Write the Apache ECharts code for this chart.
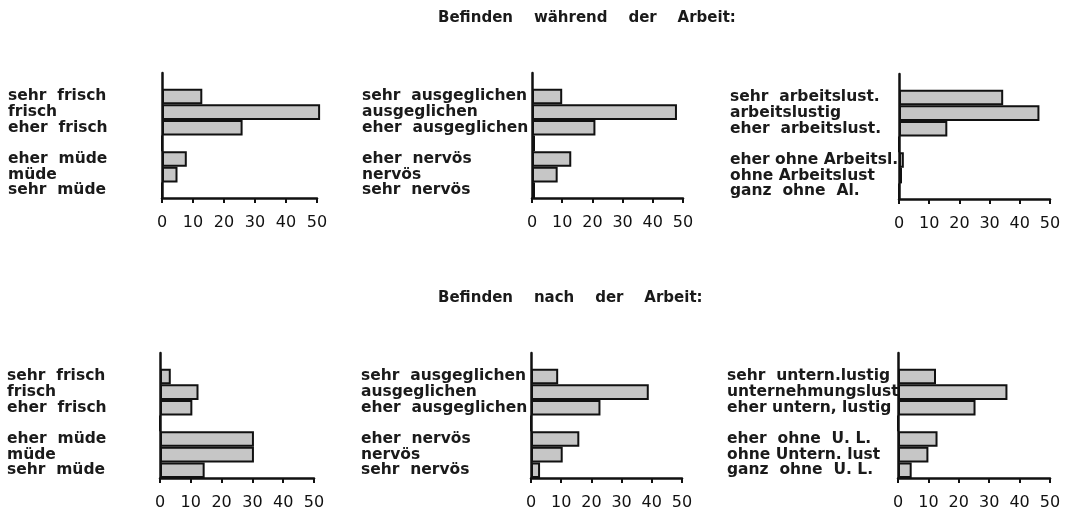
<!DOCTYPE html>
<html>
<head>
<meta charset="utf-8">
<script src="https://cdn.jsdelivr.net/npm/echarts@6/dist/echarts.min.js"></script>
<style>html,body{margin:0;padding:0;background:#fff;}#c{width:1067px;height:514px;}</style>
</head>
<body>
<div id="c"></div>
<script>
// ---- Data ----
const titleDuring = 'Befinden    während    der    Arbeit:';
const titleAfter = 'Befinden    nach    der    Arbeit:';
const xTicks = [0, 10, 20, 30, 40, 50];

const labelsFrisch = ['sehr  frisch', 'frisch', 'eher  frisch', 'eher  müde', 'müde', 'sehr  müde'];
const labelsNervos = ['sehr  ausgeglichen', 'ausgeglichen', 'eher  ausgeglichen', 'eher  nervös', 'nervös', 'sehr  nervös'];
const labelsArbeit = ['sehr  arbeitslust.', 'arbeitslustig', 'eher  arbeitslust.', 'eher ohne Arbeitsl.', 'ohne Arbeitslust', 'ganz  ohne  Al.'];
const labelsUntern = ['sehr  untern.lustig', 'unternehmungslust', 'eher untern, lustig', 'eher  ohne  U. L.', 'ohne Untern. lust', 'ganz  ohne  U. L.'];

// values per slot: 3 positive, middle (unlabelled), 3 negative
const duringFrisch = [13, 51, 26, 0, 8, 5, 0];
const duringNervos = [10, 48, 21, 1, 13, 8.5, 1];
const duringArbeit = [34.5, 46.5, 16, 0, 1.6, 1, 0];
const afterFrisch = [3.5, 12.5, 10.5, 0, 30.5, 30.5, 14.5];
const afterNervos = [9, 39, 23, 0, 16, 10.5, 3];
const afterUntern = [12.5, 36, 25.5, 0, 13, 10, 4.5];

// ---- Layout ----
const panels = [
  {labels: labelsFrisch, values: duringFrisch, left: 162, top: 73, width: 155, margin: 154},
  {labels: labelsNervos, values: duringNervos, left: 532, top: 73, width: 151, margin: 170},
  {labels: labelsArbeit, values: duringArbeit, left: 899, top: 74, width: 151, margin: 169},
  {labels: labelsFrisch, values: afterFrisch, left: 160, top: 353, width: 154, margin: 153},
  {labels: labelsNervos, values: afterNervos, left: 531, top: 353, width: 151, margin: 170},
  {labels: labelsUntern, values: afterUntern, left: 898, top: 353, width: 152, margin: 171}
];

const font = 'DejaVu Sans';
const ink = '#111';

const grids = [], xAxes = [], yAxes = [], series = [];
panels.forEach((p, i) => {
  const cats = [' ', p.labels[0], p.labels[1], p.labels[2], '  ', p.labels[3], p.labels[4], p.labels[5]];
  const data = [null].concat(p.values);
  grids.push({left: p.left, top: p.top, width: p.width, height: 125, containLabel: false});
  xAxes.push({
    type: 'value', gridIndex: i, min: xTicks[0], max: xTicks[xTicks.length - 1], interval: 10,
    splitLine: {show: false},
    axisLine: {show: true, lineStyle: {color: ink, width: 2.5}},
    axisTick: {show: true, length: 5, lineStyle: {color: ink, width: 2}},
    axisLabel: {margin: 17, fontSize: 16, color: ink, fontFamily: font}
  });
  yAxes.push({
    type: 'category', gridIndex: i, data: cats, inverse: true,
    axisLine: {show: true, lineStyle: {color: ink, width: 2.5}},
    axisTick: {show: false},
    splitLine: {show: false},
    axisLabel: {align: 'left', margin: p.margin, fontSize: 15.5, fontWeight: 'bold', color: '#1a1a1a', fontFamily: font, interval: 0}
  });
  series.push({
    type: 'bar', xAxisIndex: i, yAxisIndex: i, data: data,
    barCategoryGap: '0%', clip: false,
    itemStyle: {color: '#c6c6c6', borderColor: ink, borderWidth: 2},
    emphasis: {disabled: true},
    silent: true
  });
});

const chart = echarts.init(document.getElementById('c'), null, {renderer: 'canvas'});
chart.setOption({
  animation: false,
  backgroundColor: '#fff',
  title: [
    {text: titleDuring, left: 438, top: 11, padding: 0, textStyle: {fontSize: 15, fontWeight: 'bold', color: '#1a1a1a', fontFamily: font}},
    {text: titleAfter, left: 438, top: 291, padding: 0, textStyle: {fontSize: 15, fontWeight: 'bold', color: '#1a1a1a', fontFamily: font}}
  ],
  grid: grids,
  xAxis: xAxes,
  yAxis: yAxes,
  series: series
});
</script>
</body>
</html>
